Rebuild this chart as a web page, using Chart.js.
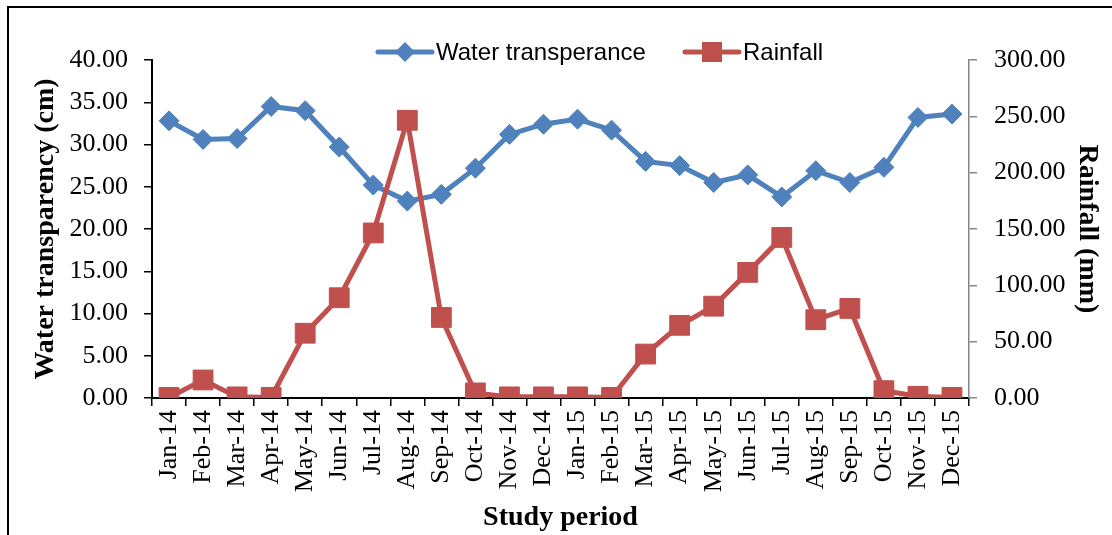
<!DOCTYPE html>
<html>
<head>
<meta charset="utf-8">
<script src="https://cdn.jsdelivr.net/npm/chart.js@4.4.1/dist/chart.umd.min.js"></script>
<style>
  body { margin: 0; background: #fff; }
  #wrap { position: relative; width: 1112px; height: 535px; overflow: hidden; }
  #frame { position: absolute; left: 7px; top: 6px; width: 1200px; height: 600px;
           border-left: 2px solid #000; border-top: 2px solid #000; }
  canvas { position: absolute; left: 0; top: 0; }
</style>
</head>
<body>
<div id="wrap">
  <div id="frame"></div>
  <canvas id="waterChart" width="1112" height="535"></canvas>
</div>
<script>
// Datos
const months = ["Jan-14", "Feb-14", "Mar-14", "Apr-14", "May-14", "Jun-14", "Jul-14", "Aug-14",
  "Sep-14", "Oct-14", "Nov-14", "Dec-14", "Jan-15", "Feb-15", "Mar-15", "Apr-15", "May-15",
  "Jun-15", "Jul-15", "Aug-15", "Sep-15", "Oct-15", "Nov-15", "Dec-15"];
const waterTransparency = [32.8, 30.6, 30.7, 34.5, 34.0, 29.7, 25.2, 23.3, 24.1, 27.2, 31.2, 32.4,
  33.0, 31.7, 28.0, 27.5, 25.5, 26.4, 23.8, 26.9, 25.5, 27.3, 33.2, 33.6];
const rainfall = [0.5, 16.0, 1.0, 0.5, 57.5, 89.0, 146.5, 246.5, 71.5, 4.5, 1.0, 1.0,
  1.0, 0.5, 39.0, 64.5, 81.5, 111.5, 142.5, 69.5, 79.5, 6.5, 1.5, 0.5];
const leftTicks = { min: 0, max: 40, step: 5 };
const rightTicks = { min: 0, max: 300, step: 50 };

const blue = "#4F81BD";
const red = "#C0504D";
const serif = "'Liberation Serif', 'Times New Roman', serif";

// Leyenda dibujada a mano (línea + marcador + texto)
const legendItems = [
  { text: "Water transperance", color: blue, style: "diamond", x: 378 },
  { text: "Rainfall", color: red, style: "square", x: 685 },
];

const lineLegend = {
  id: "lineLegend",
  afterDraw(chart) {
    const ctx = chart.ctx;
    const y = 52;
    ctx.save();
    legendItems.forEach((item) => {
      ctx.strokeStyle = item.color;
      ctx.lineWidth = 5;
      ctx.lineCap = "round";
      ctx.beginPath();
      ctx.moveTo(item.x, y);
      ctx.lineTo(item.x + 54, y);
      ctx.stroke();
      ctx.fillStyle = item.color;
      const cx = item.x + 27;
      ctx.beginPath();
      if (item.style === "diamond") {
        ctx.moveTo(cx - 10, y);
        ctx.lineTo(cx, y - 10);
        ctx.lineTo(cx + 10, y);
        ctx.lineTo(cx, y + 10);
        ctx.closePath();
      } else {
        ctx.rect(cx - 10, y - 10, 20, 20);
      }
      ctx.fill();
      ctx.fillStyle = "#000";
      ctx.font = "24px 'Liberation Sans', Arial, sans-serif";
      ctx.textBaseline = "middle";
      ctx.textAlign = "left";
      ctx.fillText(item.text, item.x + 58, y + 1);
    });
    ctx.restore();
  },
};

window.onload = () => {
  const ctx = document.getElementById("waterChart").getContext("2d");
  new Chart(ctx, {
    type: "line",
    data: {
      labels: months,
      datasets: [
        {
          label: "Water transperance",
          data: waterTransparency,
          yAxisID: "y",
          borderColor: blue,
          backgroundColor: blue,
          borderWidth: 5,
          pointStyle: "rectRot",
          pointRadius: 10,
          pointBorderWidth: 1,
          tension: 0,
          order: 2,
        },
        {
          label: "Rainfall",
          data: rainfall,
          yAxisID: "y1",
          borderColor: red,
          backgroundColor: red,
          borderWidth: 5,
          pointStyle: "rect",
          pointRadius: 14,
          pointBorderWidth: 1,
          tension: 0,
          order: 1,
        },
      ],
    },
    options: {
      responsive: false,
      animation: false,
      devicePixelRatio: 1,
      layout: { padding: { top: 60, left: 0, right: 0, bottom: 0 } },
      plugins: {
        legend: { display: false },
        tooltip: { enabled: false },
      },
      scales: {
        x: {
          offset: true,
          grid: { offset: true, drawOnChartArea: false, color: "#000", lineWidth: 1.5, tickLength: 8 },
          border: { color: "#000", width: 2 },
          ticks: {
            color: "#000",
            font: { family: serif, size: 26 },
            minRotation: 90,
            maxRotation: 90,
            autoSkip: false,
            padding: 4,
          },
          title: {
            display: true,
            text: "Study period",
            color: "#000",
            font: { family: serif, size: 28, weight: "bold" },
            padding: { top: 0, bottom: 0 },
          },
          afterFit: (scale) => { scale.height = 137; },
        },
        y: {
          position: "left",
          min: leftTicks.min,
          max: leftTicks.max,
          grid: { drawOnChartArea: false, color: "#000", lineWidth: 1.5, tickLength: 8 },
          border: { color: "#000", width: 2 },
          ticks: {
            stepSize: leftTicks.step,
            color: "#000",
            font: { family: serif, size: 26 },
            padding: 16,
            callback: (v) => v.toFixed(2),
          },
          title: {
            display: true,
            text: "Water transparency (cm)",
            color: "#000",
            font: { family: serif, size: 28, weight: "bold" },
            padding: { top: 29, bottom: 0 },
          },
          afterFit: (scale) => { scale.width = 152; },
        },
        y1: {
          position: "right",
          min: rightTicks.min,
          max: rightTicks.max,
          grid: { drawOnChartArea: false, color: "#868686", lineWidth: 1.5, tickLength: 8 },
          border: { color: "#868686", width: 1.5 },
          ticks: {
            stepSize: rightTicks.step,
            color: "#000",
            font: { family: serif, size: 26 },
            padding: 17,
            callback: (v) => v.toFixed(2),
          },
          title: {
            display: true,
            text: "Rainfall (mm)",
            color: "#000",
            font: { family: serif, size: 28, weight: "bold" },
            padding: { top: 8, bottom: 0 },
          },
          afterFit: (scale) => { scale.width = 143; },
        },
      },
    },
    plugins: [lineLegend],
  });
};
</script>
</body>
</html>
